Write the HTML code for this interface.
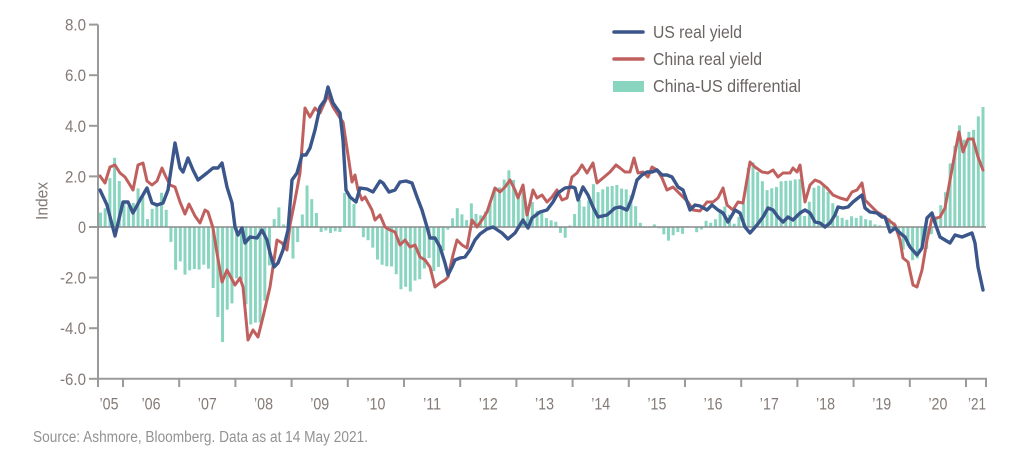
<!DOCTYPE html>
<html>
<head>
<meta charset="utf-8">
<style>
  html,body{margin:0;padding:0;background:#fff;}
  svg{display:block;}
  text{font-family:"Liberation Sans",Arial,sans-serif;}
</style>
</head>
<body>
<svg id="c" width="1024" height="454" viewBox="0 0 1024 454" xmlns="http://www.w3.org/2000/svg">
  <rect x="0" y="0" width="1024" height="454" fill="#ffffff"/>

  <!-- bars container -->
  <g id="bars" fill="#8ad5c0"></g>

  <!-- axes -->
  <g stroke="#9a9a9a" stroke-width="2" fill="none">
    <line x1="98" y1="24.6" x2="98" y2="387"/>
    <line x1="97" y1="378.8" x2="987" y2="378.8"/>
    <!-- y ticks -->
    <line x1="89" y1="24.6" x2="98" y2="24.6"/>
    <line x1="89" y1="75.2" x2="98" y2="75.2"/>
    <line x1="89" y1="125.8" x2="98" y2="125.8"/>
    <line x1="89" y1="176.4" x2="98" y2="176.4"/>
    <line x1="89" y1="227" x2="98" y2="227"/>
    <line x1="89" y1="277.6" x2="98" y2="277.6"/>
    <line x1="89" y1="328.2" x2="98" y2="328.2"/>
    <line x1="89" y1="378.8" x2="98" y2="378.8"/>
    <!-- x ticks -->
    <line x1="123" y1="378.8" x2="123" y2="387"/>
    <line x1="179.2" y1="378.8" x2="179.2" y2="387"/>
    <line x1="235.4" y1="378.8" x2="235.4" y2="387"/>
    <line x1="291.6" y1="378.8" x2="291.6" y2="387"/>
    <line x1="347.8" y1="378.8" x2="347.8" y2="387"/>
    <line x1="404" y1="378.8" x2="404" y2="387"/>
    <line x1="460.2" y1="378.8" x2="460.2" y2="387"/>
    <line x1="516.4" y1="378.8" x2="516.4" y2="387"/>
    <line x1="572.6" y1="378.8" x2="572.6" y2="387"/>
    <line x1="628.8" y1="378.8" x2="628.8" y2="387"/>
    <line x1="685" y1="378.8" x2="685" y2="387"/>
    <line x1="741.2" y1="378.8" x2="741.2" y2="387"/>
    <line x1="797.4" y1="378.8" x2="797.4" y2="387"/>
    <line x1="853.6" y1="378.8" x2="853.6" y2="387"/>
    <line x1="909.8" y1="378.8" x2="909.8" y2="387"/>
    <line x1="966" y1="378.8" x2="966" y2="387"/>
    <line x1="986" y1="378.8" x2="986" y2="387"/>
  </g>

  <!-- zero line -->
  <line x1="98" y1="227" x2="986" y2="227" stroke="#8a8a8a" stroke-width="1.6"/>

  <!-- China real yield -->
  <polyline id="red" fill="none" stroke="#c0605e" stroke-width="3" stroke-linejoin="round" stroke-linecap="round"
    points="100,176 105,183 110,167 115,165 120,173 125,177 130,185 133,190 138,165 143,163 147,181 152,185 157,181 162,168 165,175 170,185 175,187 180,202 185,214 189,204 195,216 200,223 205,210 208,212 213,228 217,253 222,282 227,270 235,285 240,278 243,287 248,340 253,330 258,337 263,317 270,287 277,240 282,243 287,250 290,225 295,200 300,173 305,108 310,117 315,108 320,113 328,95 333,107 340,118 343,122 348,155 352,182 355,175 358,190 362,200 365,197 372,210 375,220 380,215 385,227 390,230 395,232 400,245 405,240 410,247 415,245 420,257 425,260 430,267 435,287 440,283 445,280 448,277 453,255 457,240 462,245 467,248 472,220 477,227 482,220 487,212 492,197 495,188 500,192 505,187 510,180 515,190 518,198 523,185 527,215 530,203 533,190 537,198 542,195 547,202 552,197 557,190 562,200 567,198 572,177 577,173 582,165 587,173 593,163 597,183 603,178 610,172 616,165 620,168 625,172 630,172 634,158 638,173 643,172 648,177 652,167 657,170 662,178 667,190 673,187 678,192 683,197 688,202 693,210 700,211 707,202 713,202 718,198 723,188 727,205 733,210 738,202 743,203 750,162 755,167 762,172 768,173 773,170 778,177 783,173 790,173 793,168 797,172 800,165 805,202 810,185 815,180 820,182 827,188 833,195 840,198 847,200 852,192 857,190 862,183 865,200 870,205 877,212 882,215 887,219 895,225 900,240 903,258 908,262 913,285 917,287 922,270 927,240 932,218 937,218 940,217 945,208 950,180 955,153 959,132 963,152 968,139 973,139 978,157 983,170"/>

  <!-- US real yield -->
  <polyline id="blue" fill="none" stroke="#3b568a" stroke-width="3.4" stroke-linejoin="round" stroke-linecap="round"
    points="100,190 107,205 115,236 123,202 128,202 133,213 140,200 147,188 152,203 157,205 163,203 168,190 175,143 180,168 183,172 188,158 193,170 198,180 207,173 213,168 218,168 222,163 227,187 232,203 235,227 238,235 242,228 245,243 250,237 257,238 262,230 267,240 270,253 274,267 278,263 283,250 288,230 292,180 297,173 302,155 306,155 310,148 315,130 320,107 325,100 328,87 333,103 340,113 343,140 346,190 350,197 356,202 360,188 367,189 373,192 380,181 383,183 389,192 395,190 400,182 406,181 412,183 417,197 422,210 427,227 430,238 435,238 440,247 445,263 448,275 452,267 455,260 460,258 465,257 470,250 475,240 480,234 487,229 493,227 502,233 508,239 515,233 523,220 528,228 532,218 540,212 547,210 553,202 558,193 565,188 572,187 575,188 578,200 583,187 588,195 593,207 598,217 607,215 615,208 620,207 627,210 632,198 637,180 642,175 647,172 652,172 657,170 662,175 667,175 672,177 678,187 683,190 690,210 695,205 700,206 707,210 712,205 718,210 723,213 728,222 735,210 740,213 745,227 750,233 757,225 763,217 768,208 773,210 778,217 783,222 788,217 793,220 800,213 805,210 810,213 815,222 820,223 825,227 830,223 835,215 838,207 843,208 848,207 853,202 858,198 862,195 865,208 870,212 877,213 882,217 885,217 890,232 895,228 900,233 905,237 910,247 917,255 922,248 927,218 932,213 935,223 940,237 945,240 950,243 955,235 962,237 967,235 972,233 975,243 978,267 983,290"/>

  <!-- y tick labels -->
  <g fill="#847a75" font-size="16.5" text-anchor="end">
    <text x="86" y="30.6" textLength="21" lengthAdjust="spacingAndGlyphs">8.0</text>
    <text x="86" y="81.2" textLength="21" lengthAdjust="spacingAndGlyphs">6.0</text>
    <text x="86" y="131.8" textLength="21" lengthAdjust="spacingAndGlyphs">4.0</text>
    <text x="86" y="182.4" textLength="21" lengthAdjust="spacingAndGlyphs">2.0</text>
    <text x="86" y="233" textLength="8" lengthAdjust="spacingAndGlyphs">0</text>
    <text x="86" y="283.6" textLength="26" lengthAdjust="spacingAndGlyphs">-2.0</text>
    <text x="86" y="334.2" textLength="26" lengthAdjust="spacingAndGlyphs">-4.0</text>
    <text x="86" y="384.8" textLength="26" lengthAdjust="spacingAndGlyphs">-6.0</text>
  </g>

  <!-- Index label -->
  <text x="0" y="0" fill="#847a75" font-size="16.5" text-anchor="middle" textLength="38" lengthAdjust="spacingAndGlyphs" transform="translate(47.5,201) rotate(-90)">Index</text>

  <!-- x labels -->
  <g fill="#847a75" font-size="16.5" text-anchor="middle">
    <text x="109" y="409.5" textLength="19" lengthAdjust="spacingAndGlyphs">’05</text>
    <text x="151" y="409.5" textLength="19" lengthAdjust="spacingAndGlyphs">’06</text>
    <text x="207.3" y="409.5" textLength="19" lengthAdjust="spacingAndGlyphs">’07</text>
    <text x="263.5" y="409.5" textLength="19" lengthAdjust="spacingAndGlyphs">’08</text>
    <text x="319.7" y="409.5" textLength="19" lengthAdjust="spacingAndGlyphs">’09</text>
    <text x="375.9" y="409.5" textLength="19" lengthAdjust="spacingAndGlyphs">’10</text>
    <text x="432.1" y="409.5" textLength="18" lengthAdjust="spacingAndGlyphs">’11</text>
    <text x="488.3" y="409.5" textLength="19" lengthAdjust="spacingAndGlyphs">’12</text>
    <text x="544.5" y="409.5" textLength="19" lengthAdjust="spacingAndGlyphs">’13</text>
    <text x="600.7" y="409.5" textLength="19" lengthAdjust="spacingAndGlyphs">’14</text>
    <text x="656.9" y="409.5" textLength="19" lengthAdjust="spacingAndGlyphs">’15</text>
    <text x="713.1" y="409.5" textLength="19" lengthAdjust="spacingAndGlyphs">’16</text>
    <text x="769.3" y="409.5" textLength="19" lengthAdjust="spacingAndGlyphs">’17</text>
    <text x="825.5" y="409.5" textLength="19" lengthAdjust="spacingAndGlyphs">’18</text>
    <text x="881.7" y="409.5" textLength="19" lengthAdjust="spacingAndGlyphs">’19</text>
    <text x="937.9" y="409.5" textLength="19" lengthAdjust="spacingAndGlyphs">’20</text>
    <text x="977" y="409.5" textLength="18" lengthAdjust="spacingAndGlyphs">’21</text>
  </g>

  <!-- legend -->
  <line x1="614" y1="32" x2="643" y2="32" stroke="#3b568a" stroke-width="3.5" stroke-linecap="round"/>
  <line x1="614" y1="59" x2="643" y2="59" stroke="#c0605e" stroke-width="3.5" stroke-linecap="round"/>
  <rect x="613" y="81" width="31" height="11" fill="#8ad5c0"/>
  <g fill="#6a6462" font-size="17.5">
    <text x="653" y="38" textLength="89" lengthAdjust="spacingAndGlyphs">US real yield</text>
    <text x="653" y="65" textLength="109" lengthAdjust="spacingAndGlyphs">China real yield</text>
    <text x="653" y="92" textLength="148" lengthAdjust="spacingAndGlyphs">China-US differential</text>
  </g>

  <!-- source -->
  <text x="33" y="442" fill="#929292" font-size="15.5" textLength="335" lengthAdjust="spacingAndGlyphs">Source: Ashmore, Bloomberg. Data as at 14 May 2021.</text>
</svg>
<script>
(function(){
  function parse(id){
    return document.getElementById(id).getAttribute('points').trim().split(/\s+/).map(function(p){
      var a=p.split(',');return [parseFloat(a[0]),parseFloat(a[1])];
    });
  }
  function interp(P,x){
    if(x<=P[0][0])return P[0][1];
    for(var i=1;i<P.length;i++){
      if(x<=P[i][0]){var a=P[i-1],b=P[i];return a[1]+(b[1]-a[1])*(x-a[0])/(b[0]-a[0]);}
    }
    return P[P.length-1][1];
  }
  var R=parse('red'),B=parse('blue');
  var g=document.getElementById('bars');
  var ns='http://www.w3.org/2000/svg';
  var n=189,x0=100.5,x1=983,step=(x1-x0)/(n-1);
  for(var i=0;i<n;i++){
    var x=x0+i*step;
    var h=interp(B,x)-interp(R,x);
    var r=document.createElementNS(ns,'rect');
    r.setAttribute('x',(x-1.5).toFixed(2));
    r.setAttribute('width','3');
    if(h>=0){r.setAttribute('y',(227-h).toFixed(2));r.setAttribute('height',h.toFixed(2));}
    else{r.setAttribute('y','227');r.setAttribute('height',(-h).toFixed(2));}
    g.appendChild(r);
  }
})();
</script>
</body>
</html>
